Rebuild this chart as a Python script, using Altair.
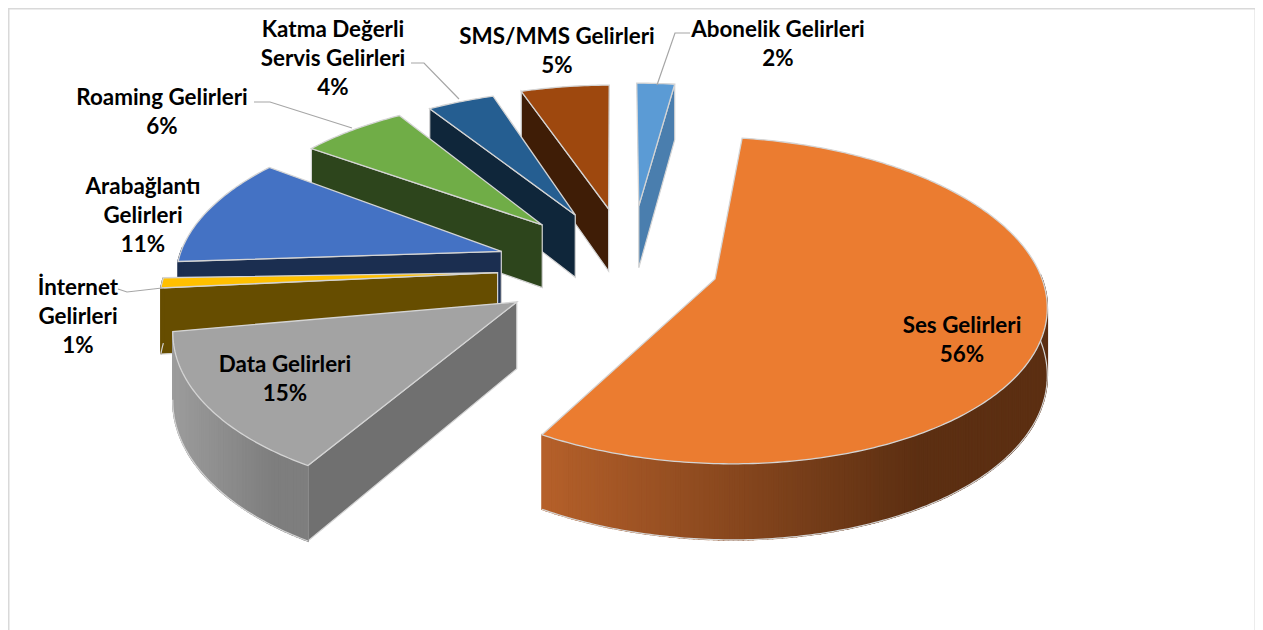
import math
import altair as alt

# --- data ---
names = ["Ses Gelirleri", "Data Gelirleri", "İnternet Gelirleri", "Arabağlantı Gelirleri",
         "Roaming Gelirleri", "Katma Değerli Servis Gelirleri", "SMS/MMS Gelirleri", "Abonelik Gelirleri"]
shares = [56, 15, 1, 11, 6, 4, 5, 2]
top_colors = ["#EB7C30", "#A3A3A3", "#FFC000", "#4472C4", "#70AD47", "#255E91", "#9E480E", "#5B9BD5"]
wall_colors = ["#5C2F12", "#707070", "#664D00", "#1B2E50", "#2D451C", "#0F263A", "#3F1D06", "#4A7EAE"]
rim_left = ["#B5602A", "#9C9C9C", "#664D00", "#1B2E50", "#2D451C", "#0F263A", "#3F1D06", "#4A7EAE"]
rim_right = ["#5C2F12", "#7E7E7E", "#664D00", "#1B2E50", "#2D451C", "#0F263A", "#3F1D06", "#4A7EAE"]
label_lines = [["Ses Gelirleri", "56%"], ["Data Gelirleri", "15%"], ["İnternet", "Gelirleri", "1%"],
               ["Arabağlantı", "Gelirleri", "11%"], ["Roaming Gelirleri", "6%"],
               ["Katma Değerli", "Servis Gelirleri", "4%"], ["SMS/MMS Gelirleri", "5%"],
               ["Abonelik Gelirleri", "2%"]]
label_x = [962, 285, 78, 143, 162, 333, 557, 778]
label_cy = [323, 362, 285, 184, 95, 27, 34, 27]
leaders = [[(118, 289), (127, 292), (162, 288)],
           [(254, 102), (270, 102), (352, 128)],
           [(411, 63), (424, 63), (459, 99)],
           [(690, 33), (675, 33), (657, 85)]]

# --- pie geometry parameters (page pixels) ---
CX, CY = 612.0, 262.0
RX, RY = 325.0, 157.0
K = 0.13
DEPTH = 65.0
EXPLODE = 0.37
START = 9.0
# per-slice fit of the reference's perspective
off_x = [-12, 9, 6, 2, 7, 9, 11, 16]
off_y = [-3, 8, 7, 7, 5, 4, 2, -1]
d_a0 = [-1, 0, 0, -2, -3, -2.5, -3, -2]
d_a1 = [0, -4.5, 0, -1.5, -2, -2.5, -2, -1]
r_scale = [0.99, 1.015, 1.02, 1, 0.98, 0.97, 0.97, 0.96]


def proj(u, v, z=0.0, i=0):
    w = 1.0 / (1.0 - K * v)
    return [CX + RX * u * w - 8 + off_x[i], CY + RY * v * w + DEPTH * z * w - 8 + off_y[i]]


def hexmix(a, b, t):
    ca = [int(a[i:i + 2], 16) for i in (1, 3, 5)]
    cb = [int(b[i:i + 2], 16) for i in (1, 3, 5)]
    return "#%02x%02x%02x" % tuple(round(x + (y - x) * t) for x, y in zip(ca, cb))


def feat(coords, fill, stroke, sw, closed=True):
    c = [list(p) for p in coords]
    if closed:
        c = c + [c[0]]
        geom = {"type": "Polygon", "coordinates": [c]}
    else:
        geom = {"type": "LineString", "coordinates": c}
    return {"type": "Feature", "geometry": geom,
            "properties": {"fill": fill, "stroke": stroke, "sw": sw}}


EDGE = "#d4d4d4"
slices = []
a = START
for i, s in enumerate(shares):
    sweep = s * 3.6
    slices.append((i, a, a + sweep))
    a += sweep

features = []
# chart frame
features.append(feat([(0.5, 0.5), (1247.5, 0.5), (1247.5, 640), (0.5, 640)], "transparent", "#d9d9d9", 2))

paint_order = [7, 6, 5, 4, 3, 2, 1, 0]
for i, a0, a1 in [slices[j] for j in paint_order]:
    mid = math.radians((a0 + a1) / 2)
    ou = EXPLODE * math.sin(mid)
    ov = -EXPLODE * math.cos(mid)
    b0, b1 = a0 + d_a0[i], a1 + d_a1[i]
    n = max(2, int((b1 - b0) / 0.75))
    angs = [math.radians(b0 + (b1 - b0) * t / n) for t in range(n + 1)]
    rim = [(ou + r_scale[i] * math.sin(t), ov - r_scale[i] * math.cos(t)) for t in angs]
    apex = proj(ou, ov, 0, i)
    m = proj(*rim[n // 2], 0, i)
    # radial walls: only those that face the viewer
    for (ru, rv) in (rim[0], rim[-1]):
        e = proj(ru, rv, 0, i)
        nx, ny = -(e[1] - apex[1]), e[0] - apex[0]
        ln = math.hypot(nx, ny)
        nx, ny = nx / ln, ny / ln
        if nx * (m[0] - apex[0]) + ny * (m[1] - apex[1]) > 0:
            nx, ny = -nx, -ny
        if ny > 0.02:
            pts = [proj(ou, ov, 0, i), proj(ru, rv, 0, i), proj(ru, rv, 1, i), proj(ou, ov, 1, i)]
            features.append(feat(pts, wall_colors[i], EDGE, 1.2))
    # outer rim as shaded strips (only the part facing the viewer)
    xs = [proj(u, v, 0, i)[0] for u, v in rim]
    xmin, xmax = min(xs), max(xs)
    outline_bot = []
    for k in range(n):
        (u0, v0), (u1, v1) = rim[k], rim[k + 1]
        if math.cos(angs[k]) > 0.02 and math.cos(angs[k + 1]) > 0.02:
            continue
        t = ((proj(u0, v0, 0, i)[0] + proj(u1, v1, 0, i)[0]) / 2 - xmin) / max(1e-6, xmax - xmin)
        col = hexmix(rim_left[i], rim_right[i], min(1.0, t * 1.35))
        pts = [proj(u0, v0, 0, i), proj(u1, v1, 0, i), proj(u1, v1, 1, i), proj(u0, v0, 1, i)]
        features.append(feat(pts, col, col, 1.5))
        outline_bot.append(proj(u0, v0, 1, i))
        outline_bot.append(proj(u1, v1, 1, i))
    if outline_bot:
        features.append(feat(outline_bot, "transparent", EDGE, 1.2, closed=False))
    # top face
    top = [apex] + [proj(u, v, 0, i) for u, v in rim]
    features.append(feat(top, top_colors[i], EDGE, 1.3))

# leader lines
for line in leaders:
    features.append(feat([(x - 8, y - 8) for x, y in line], "transparent", "#a6a6a6", 1.2, closed=False))

rows = []
for lines, x, y in zip(label_lines, label_x, label_cy):
    rows.append({"t": "\n".join(lines), "x": x - 8, "y": y - 16})

shapes = alt.Chart(alt.Data(values=features)).mark_geoshape().encode(
    fill=alt.Fill("properties.fill:N", scale=None, legend=None),
    stroke=alt.Stroke("properties.stroke:N", scale=None, legend=None),
    strokeWidth=alt.StrokeWidth("properties.sw:Q", scale=None, legend=None),
).project(type="identity", scale=1, translate=[0, 0])

text = alt.Chart(alt.Data(values=rows)).mark_text(
    font="Lato", fontWeight="bold", fontSize=22.4, color="#000000",
    lineBreak="\n", lineHeight=29, align="center", baseline="top",
).encode(
    x=alt.X("x:Q", scale=None, axis=None),
    y=alt.Y("y:Q", scale=None, axis=None),
    text="t:N",
)

chart = alt.layer(shapes, text).properties(width=1247, height=622, padding=0).configure_view(stroke=None)
chart.save("out.html", embed_options={"renderer": "svg", "actions": False})
